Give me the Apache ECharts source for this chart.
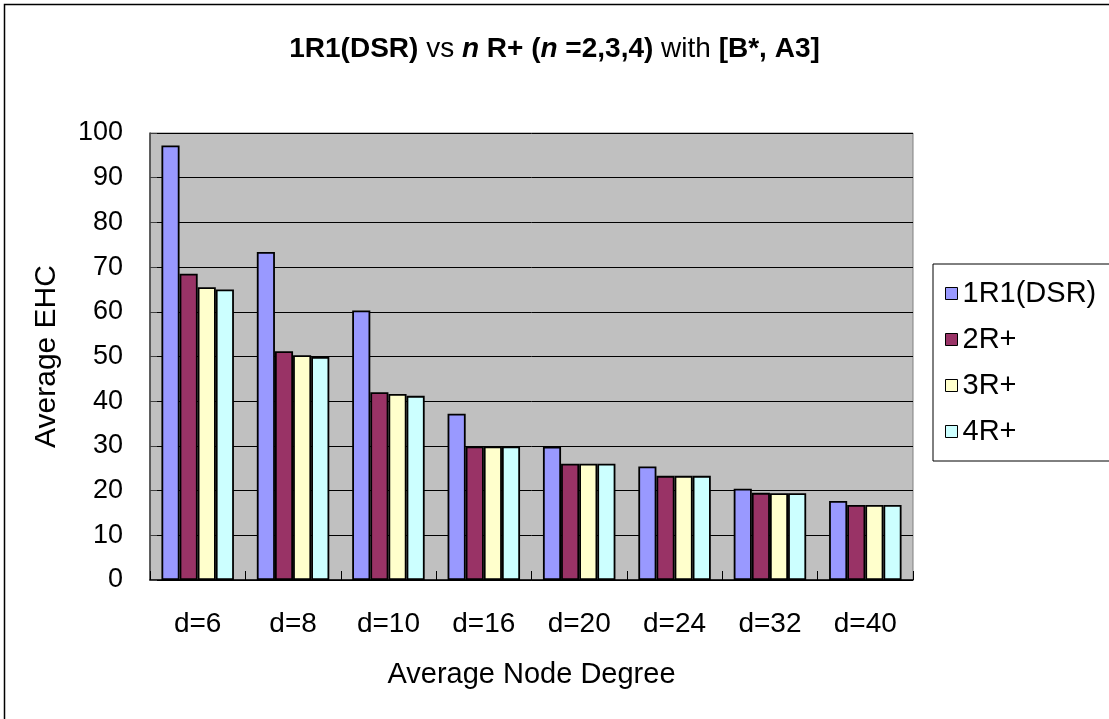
<!DOCTYPE html>
<html>
<head>
<meta charset="utf-8">
<script src="https://cdn.jsdelivr.net/npm/echarts@6/dist/echarts.min.js"></script>
<style>
html,body{margin:0;padding:0;background:#fff;}
#chart{width:1109px;height:719px;}
</style>
</head>
<body>
<div id="chart"></div>
<script>
const categories = ['d=6','d=8','d=10','d=16','d=20','d=24','d=32','d=40'];
const seriesNames = ['1R1(DSR)','2R+','3R+','4R+'];
const s1R1 = [97.2, 73.4, 60.3, 37.2, 29.8, 25.4, 20.4, 17.7];
const s2R = [68.5, 51.2, 42.0, 29.9, 26.0, 23.3, 19.5, 16.8];
const s3R = [65.5, 50.3, 41.6, 29.9, 26.0, 23.3, 19.4, 16.8];
const s4R = [65.0, 49.9, 41.2, 29.9, 26.0, 23.3, 19.4, 16.8];
const colors = ['#9999FF','#993366','#FFFFCC','#CCFFFF'];
const allData = [s1R1, s2R, s3R, s4R];

const FONT = 'Liberation Sans, Arial, sans-serif';
const chart = echarts.init(document.getElementById('chart'), null, {renderer:'canvas'});
const option = {
  backgroundColor: '#fff',
  animation: false,
  textStyle: {fontFamily: FONT, color: '#000'},
  graphic: [{
    type: 'rect', shape: {x: 4.5, y: 4.5, width: 1300, height: 1300},
    style: {fill: 'none', stroke: '#000', lineWidth: 1.5}, z: 100, silent: true
  }],
  title: {
    left: 'center', top: 30,
    text: '{b|1R1(DSR)}{n| vs }{i|n}{b| R+ (}{i|n}{b| =2,3,4)}{n| with }{b|[B*, A3]}',
    textStyle: {
      fontFamily: FONT, fontSize: 28,
      rich: {
        b: {fontFamily: FONT, fontSize: 28, fontWeight: 'bold', color: '#000'},
        n: {fontFamily: FONT, fontSize: 28, fontWeight: 'normal', color: '#000'},
        i: {fontFamily: FONT, fontSize: 28, fontWeight: 'bold', fontStyle: 'italic', color: '#000'}
      }
    }
  },
  legend: {
    orient: 'vertical', left: 933, top: 264,
    data: seriesNames,
    icon: 'rect', itemWidth: 12, itemHeight: 12, itemGap: 17, itemTextGap: 19,
    padding: [15, 40, 15, 12],
    backgroundColor: '#fff', borderColor: '#000', borderWidth: 1,
    textStyle: {fontFamily: FONT, fontSize: 29, color: '#000'},
    itemStyle: {borderColor: '#000', borderWidth: 1}
  },
  grid: {
    left: 150, right: 196, top: 133, bottom: 139,
    show: true, backgroundColor: '#C0C0C0', borderColor: '#808080', borderWidth: 1
  },
  xAxis: {
    type: 'category', data: categories,
    name: 'Average Node Degree', nameLocation: 'middle', nameGap: 80,
    nameTextStyle: {fontFamily: FONT, fontSize: 29, color: '#000'},
    axisLine: {lineStyle: {color: '#000', width: 1.5}},
    axisTick: {show: true, inside: true, length: 9, lineStyle: {color: '#000'}},
    axisLabel: {fontFamily: FONT, fontSize: 28, color: '#000', margin: 30},
    splitLine: {show: false}
  },
  yAxis: {
    type: 'value', min: 0, max: 100, interval: 10,
    name: 'Average EHC', nameLocation: 'middle', nameGap: 88, nameRotate: 90,
    nameTextStyle: {fontFamily: FONT, fontSize: 30, color: '#000'},
    axisLine: {show: true, lineStyle: {color: '#404040', width: 1.5}},
    axisTick: {show: true, inside: true, length: 7, lineStyle: {color: '#404040'}},
    axisLabel: {fontFamily: FONT, fontSize: 27, color: '#000', margin: 27},
    splitLine: {show: true, lineStyle: {color: '#000', width: 1}}
  },
  series: seriesNames.map((n, i) => ({
    name: n, type: 'bar', data: allData[i],
    barGap: '0%', barCategoryGap: '24%',
    itemStyle: {color: colors[i], borderColor: '#000', borderWidth: 1.8}
  }))
};
chart.setOption(option);
</script>
</body>
</html>
